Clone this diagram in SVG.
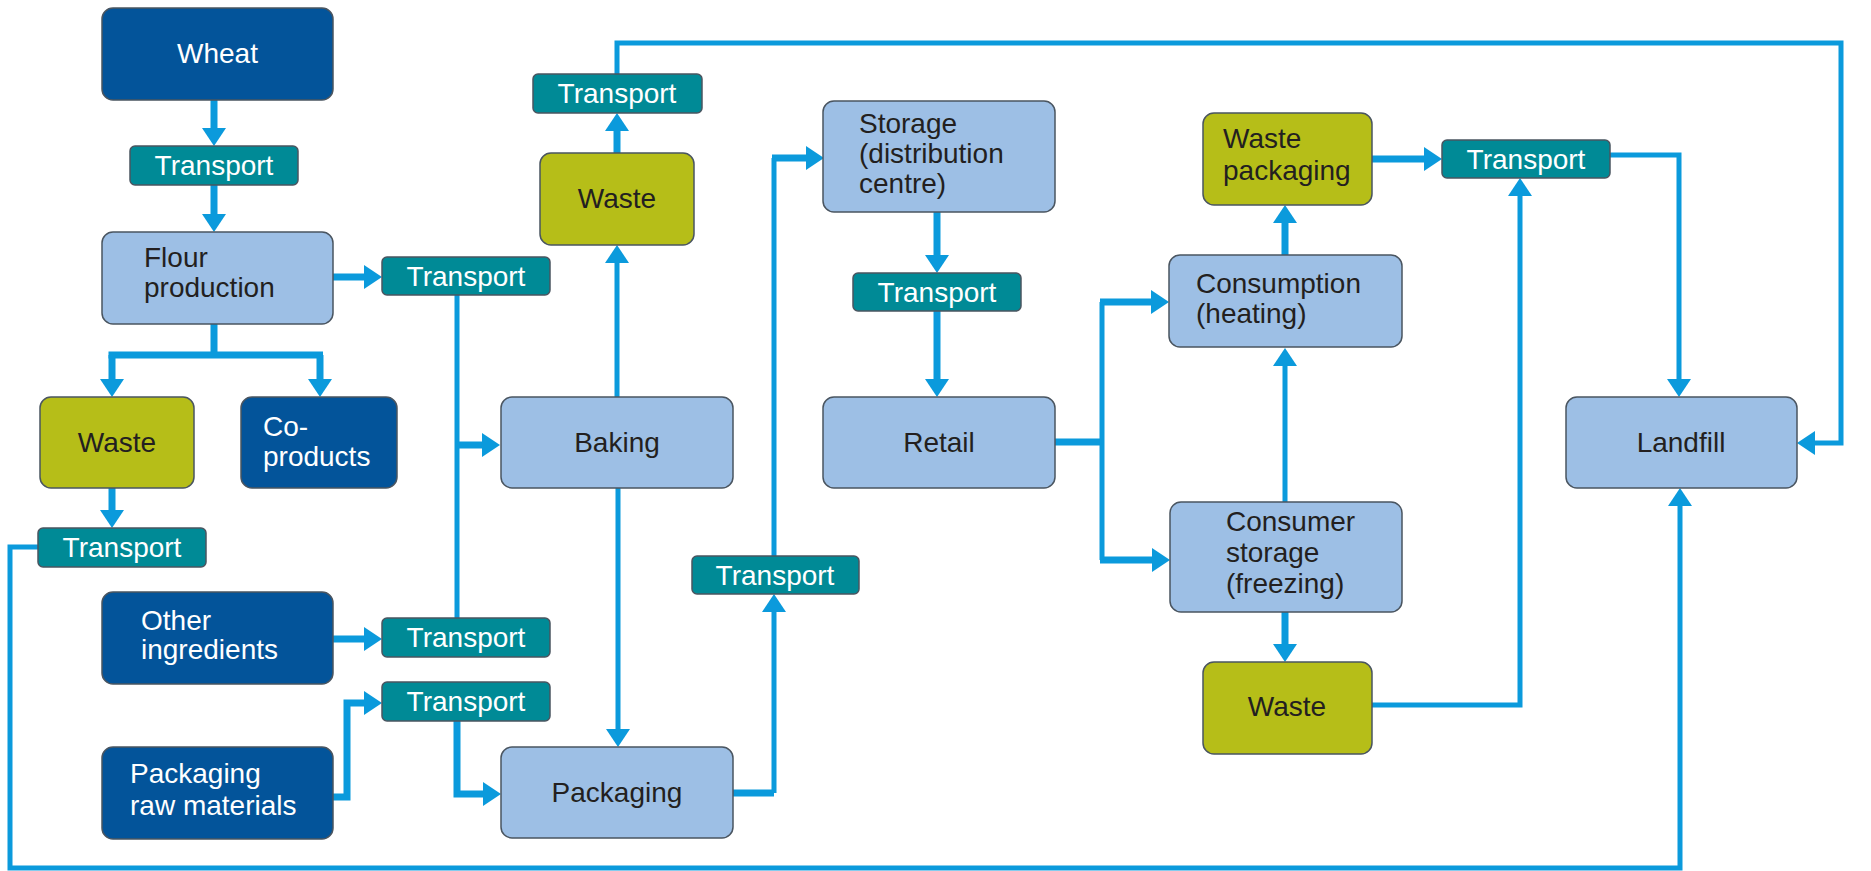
<svg xmlns="http://www.w3.org/2000/svg" width="1871" height="871" viewBox="0 0 1871 871">
<defs>
<marker id="ah" markerUnits="userSpaceOnUse" markerWidth="18" markerHeight="24" refX="8" refY="12" orient="auto">
<path d="M0,0 L18,12 L0,24 z" fill="#0B9ADC"/>
</marker>
<style>
.n rect{stroke:#4a5560;stroke-width:1.5}
.dark{fill:#03549A}
.light{fill:#9DBFE5}
.olive{fill:#B6BE18}
.teal{fill:#008A96}
text{font-family:"Liberation Sans",Arial,sans-serif;font-size:28px}
.w{fill:#ffffff}
.k{fill:#231F20}
.c{text-anchor:middle}
.cn path{fill:none;stroke:#0B9ADC;stroke-linejoin:miter}
.thick{stroke-width:7}
.thin{stroke-width:5}
.a{marker-end:url(#ah)}
</style>
</defs>
<rect width="1871" height="871" fill="#ffffff"/>
<g id="connectors" class="cn">
<path class="thick a" d="M214,100 V136"/>
<path class="thick a" d="M214,185 V222"/>
<path class="thick a" d="M333,277 H372"/>
<path class="thick" d="M214,324 V355 M108.5,355 H323"/>
<path class="thick a" d="M112,355 V387"/>
<path class="thick a" d="M320,355 V387"/>
<path class="thick a" d="M112,488 V518"/>
<path class="thin a" d="M38,547 H10 V868 H1680 V498"/>
<path class="thin" d="M457,295 V618"/>
<path class="thick a" d="M457,445 H490"/>
<path class="thick a" d="M333,639 H372"/>
<path class="thick a" d="M333,797 H347 V703 H372"/>
<path class="thick a" d="M457,721 V794 H491"/>
<path class="thin a" d="M618,488 V737"/>
<path class="thin a" d="M617,397 V255"/>
<path class="thick a" d="M617,153 V123"/>
<path class="thin a" d="M617,74 V43 H1841 V443 H1807"/>
<path class="thick" d="M733,793 H774"/>
<path class="thin a" d="M774,793 V604"/>
<path class="thin" d="M774,556 V158"/>
<path class="thick a" d="M772,158 H814"/>
<path class="thick a" d="M937,211 V263"/>
<path class="thick a" d="M937,311 V387"/>
<path class="thick" d="M1055,442 H1102"/>
<path class="thin" d="M1102,302 V560"/>
<path class="thick a" d="M1100,302 H1159"/>
<path class="thick a" d="M1100,560 H1160"/>
<path class="thin a" d="M1285,502 V358"/>
<path class="thick a" d="M1285,255 V215"/>
<path class="thick a" d="M1285,612 V652"/>
<path class="thick a" d="M1372,159 H1432"/>
<path class="thin a" d="M1372,705 H1520 V188"/>
<path class="thin a" d="M1610,155 H1679 V387"/>
</g>
<g id="wheat" class="n"><rect class="dark" x="102" y="8" width="231" height="92" rx="11"/><text class="w c" x="217.5" y="63">Wheat</text></g>
<g id="transport1" class="n"><rect class="teal" x="130" y="146" width="168" height="39" rx="5"/><text class="w c" x="214" y="175">Transport</text></g>
<g id="flour" class="n"><rect class="light" x="102" y="232" width="231" height="92" rx="11"/><text class="k" x="144" y="267">Flour</text><text class="k" x="144" y="297">production</text></g>
<g id="transport2" class="n"><rect class="teal" x="382" y="257" width="168" height="38" rx="5"/><text class="w c" x="466" y="286">Transport</text></g>
<g id="waste1" class="n"><rect class="olive" x="40" y="397" width="154" height="91" rx="11"/><text class="k c" x="117" y="452">Waste</text></g>
<g id="coproducts" class="n"><rect class="dark" x="241" y="397" width="156" height="91" rx="11"/><text class="w" x="263" y="436">Co-</text><text class="w" x="263" y="466">products</text></g>
<g id="transport3" class="n"><rect class="teal" x="38" y="528" width="168" height="39" rx="5"/><text class="w c" x="122" y="557">Transport</text></g>
<g id="other" class="n"><rect class="dark" x="102" y="592" width="231" height="92" rx="11"/><text class="w" x="141" y="630">Other</text><text class="w" x="141" y="659">ingredients</text></g>
<g id="transport4" class="n"><rect class="teal" x="382" y="618" width="168" height="39" rx="5"/><text class="w c" x="466" y="647">Transport</text></g>
<g id="transport5" class="n"><rect class="teal" x="382" y="682" width="168" height="39" rx="5"/><text class="w c" x="466" y="711">Transport</text></g>
<g id="pkgraw" class="n"><rect class="dark" x="102" y="747" width="231" height="92" rx="11"/><text class="w" x="130" y="783">Packaging</text><text class="w" x="130" y="815">raw materials</text></g>
<g id="baking" class="n"><rect class="light" x="501" y="397" width="232" height="91" rx="11"/><text class="k c" x="617" y="452">Baking</text></g>
<g id="waste2" class="n"><rect class="olive" x="540" y="153" width="154" height="92" rx="11"/><text class="k c" x="617" y="208">Waste</text></g>
<g id="transport6" class="n"><rect class="teal" x="533" y="74" width="169" height="39" rx="5"/><text class="w c" x="617" y="103">Transport</text></g>
<g id="packaging" class="n"><rect class="light" x="501" y="747" width="232" height="91" rx="11"/><text class="k c" x="617" y="802">Packaging</text></g>
<g id="transport7" class="n"><rect class="teal" x="692" y="556" width="167" height="38" rx="5"/><text class="w c" x="775" y="585">Transport</text></g>
<g id="storage" class="n"><rect class="light" x="823" y="101" width="232" height="111" rx="11"/><text class="k" x="859" y="133">Storage</text><text class="k" x="859" y="163">(distribution</text><text class="k" x="859" y="193">centre)</text></g>
<g id="transport8" class="n"><rect class="teal" x="853" y="273" width="168" height="38" rx="5"/><text class="w c" x="937" y="302">Transport</text></g>
<g id="retail" class="n"><rect class="light" x="823" y="397" width="232" height="91" rx="11"/><text class="k c" x="939" y="452">Retail</text></g>
<g id="wastepkg" class="n"><rect class="olive" x="1203" y="113" width="169" height="92" rx="11"/><text class="k" x="1223" y="148">Waste</text><text class="k" x="1223" y="180">packaging</text></g>
<g id="transport9" class="n"><rect class="teal" x="1442" y="140" width="168" height="38" rx="5"/><text class="w c" x="1526" y="169">Transport</text></g>
<g id="consumption" class="n"><rect class="light" x="1169" y="255" width="233" height="92" rx="11"/><text class="k" x="1196" y="293">Consumption</text><text class="k" x="1196" y="323">(heating)</text></g>
<g id="consumer" class="n"><rect class="light" x="1170" y="502" width="232" height="110" rx="11"/><text class="k" x="1226" y="531">Consumer</text><text class="k" x="1226" y="562">storage</text><text class="k" x="1226" y="593">(freezing)</text></g>
<g id="waste3" class="n"><rect class="olive" x="1203" y="662" width="169" height="92" rx="11"/><text class="k c" x="1287" y="716">Waste</text></g>
<g id="landfill" class="n"><rect class="light" x="1566" y="397" width="231" height="91" rx="11"/><text class="k c" x="1681" y="452">Landfill</text></g>
</svg>
